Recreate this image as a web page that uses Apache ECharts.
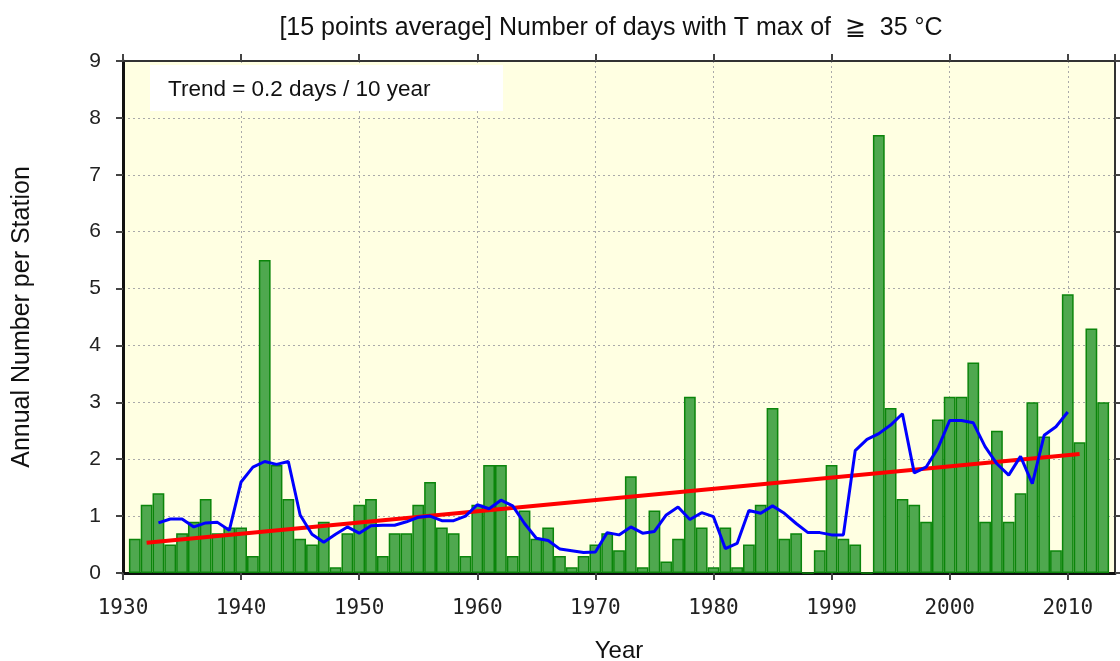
<!DOCTYPE html>
<html>
<head>
<meta charset="utf-8">
<script src="https://cdn.jsdelivr.net/npm/echarts@6/dist/echarts.min.js"></script>
<style>
  html, body { margin: 0; padding: 0; background: #fff; }
  #main { width: 1120px; height: 661px; }
</style>
</head>
<body>
<div id="main"></div>
<script>
// 年ごとの値 (1931-2013)
var barYears = [];
for (var y = 1931; y <= 2013; y++) barYears.push(y);
var barValues = [
    0.6, 1.2, 1.4, 0.5, 0.7, 0.9, 1.3, 0.7, 0.8, 0.8,
    0.3, 5.5, 1.9, 1.3, 0.6, 0.5, 0.9, 0.1, 0.7, 1.2,
    1.3, 0.3, 0.7, 0.7, 1.2, 1.6, 0.8, 0.7, 0.3, 1.2,
    1.9, 1.9, 0.3, 1.1, 0.6, 0.8, 0.3, 0.1, 0.3, 0.5,
    0.7, 0.4, 1.7, 0.1, 1.1, 0.2, 0.6, 3.1, 0.8, 0.1,
    0.8, 0.1, 0.5, 1.2, 2.9, 0.6, 0.7, 0.0, 0.4, 1.9,
    0.6, 0.5, 0.0, 7.7, 2.9, 1.3, 1.2, 0.9, 2.7, 3.1,
    3.1, 3.7, 0.9, 2.5, 0.9, 1.4, 3.0, 2.4, 0.4, 4.9,
    2.3, 4.3, 3.0
];

// 移動平均 (1933-2010)
var avgYears = [];
for (var y2 = 1933; y2 <= 2010; y2++) avgYears.push(y2);
var avgValues = [
    0.88, 0.95, 0.95, 0.81, 0.88, 0.89, 0.75, 1.60, 1.86, 1.96,
    1.91, 1.96, 1.02, 0.68, 0.54, 0.68, 0.81, 0.70, 0.83, 0.84,
    0.84, 0.90, 0.98, 1.00, 0.92, 0.92, 1.00, 1.20, 1.13, 1.28,
    1.18, 0.87, 0.61, 0.57, 0.42, 0.39, 0.36, 0.37, 0.71, 0.67,
    0.81, 0.70, 0.73, 1.02, 1.16, 0.94, 1.06, 0.99, 0.43, 0.52,
    1.10, 1.05, 1.18, 1.05, 0.87, 0.71, 0.71, 0.67, 0.67, 2.15,
    2.35, 2.45, 2.60, 2.80, 1.76, 1.86, 2.19, 2.68, 2.68, 2.64,
    2.22, 1.92, 1.72, 2.05, 1.57, 2.42, 2.57, 2.83
];

// トレンド線の両端
var trendYears = [1932, 2011];
var trendValues = [0.53, 2.09];

var yTicks = [0, 1, 2, 3, 4, 5, 6, 7, 8, 9];

function pairs(xs, vs) {
    var res = [];
    for (var i = 0; i < xs.length; i++) res.push([xs[i], vs[i]]);
    return res;
}

var chart = echarts.init(document.getElementById('main'));

var gridLine = { show: true, lineStyle: { color: '#aaaaaa', type: [2, 3], width: 1 } };
var tickStyle = { show: true, inside: false, length: 7, lineStyle: { color: '#444', width: 2 } };

var option = {
    animation: false,
    backgroundColor: '#ffffff',
    title: {
        text: '[15 points average] Number of days with T max of  \u2267  35 \u00b0C',
        left: 606,
        textAlign: 'center',
        top: 11,
        textStyle: {
            fontFamily: "'Liberation Sans', Arial, sans-serif",
            fontSize: 25,
            fontWeight: 'normal',
            color: '#111'
        }
    },
    grid: {
        left: 123, right: 5, top: 61, bottom: 88,
        outerBoundsMode: 'none',
        show: true,
        backgroundColor: '#ffffe2',
        borderWidth: 0
    },
    graphic: [
        {
            type: 'rect',
            z: 10,
            shape: { x: 150, y: 65, width: 353, height: 46 },
            style: { fill: '#ffffff' }
        },
        {
            type: 'text',
            z: 11,
            x: 168, y: 90,
            style: {
                text: 'Trend = 0.2 days / 10 year',
                fontFamily: "'Liberation Sans', Arial, sans-serif",
                fontSize: 22.5,
                fill: '#111',
                verticalAlign: 'middle'
            }
        }
    ],
    xAxis: [
        {
            type: 'value',
            position: 'bottom',
            min: 1930, max: 2014, interval: 10,
            name: 'Year',
            nameLocation: 'middle',
            nameGap: 66,
            nameTextStyle: { fontFamily: "'Liberation Sans', Arial, sans-serif", fontSize: 24, color: '#111' },
            axisLine: { show: true, onZero: false, lineStyle: { color: '#111', width: 3 } },
            axisTick: tickStyle,
            axisLabel: {
                showMaxLabel: false,
                margin: 25,
                fontFamily: "'DejaVu Sans Mono', monospace",
                fontSize: 21,
                color: '#222',
                formatter: function (v) { return String(v); }
            },
            splitLine: gridLine
        },
        {
            type: 'value',
            position: 'top',
            min: 1930, max: 2014, interval: 10,
            axisLine: { show: true, onZero: false, lineStyle: { color: '#333', width: 2 } },
            axisTick: tickStyle,
            axisLabel: { show: false },
            splitLine: { show: false }
        }
    ],
    yAxis: [
        {
            type: 'value',
            position: 'left',
            min: yTicks[0], max: yTicks[yTicks.length - 1], interval: 1,
            name: 'Annual Number per Station',
            nameLocation: 'middle',
            nameGap: 88,
            nameTextStyle: { fontFamily: "'Liberation Sans', Arial, sans-serif", fontSize: 25, color: '#111' },
            axisLine: { show: true, onZero: false, lineStyle: { color: '#111', width: 3 } },
            axisTick: tickStyle,
            axisLabel: {
                margin: 22,
                fontFamily: "'Liberation Sans', Arial, sans-serif",
                fontSize: 21,
                color: '#222'
            },
            splitLine: gridLine
        },
        {
            type: 'value',
            position: 'right',
            min: yTicks[0], max: yTicks[yTicks.length - 1], interval: 1,
            axisLine: { show: true, onZero: false, lineStyle: { color: '#333', width: 2 } },
            axisTick: tickStyle,
            axisLabel: { show: false },
            splitLine: { show: false }
        }
    ],
    series: [
        {
            name: 'days',
            type: 'bar',
            xAxisIndex: 0,
            yAxisIndex: 0,
            barWidth: 11.8,
            itemStyle: {
                color: '#4fa84f',
                borderColor: '#0b850b',
                borderWidth: 1.5
            },
            data: pairs(barYears, barValues)
        },
        {
            name: 'trend',
            type: 'line',
            xAxisIndex: 0,
            yAxisIndex: 0,
            symbol: 'none',
            lineStyle: { color: '#ff0000', width: 4 },
            data: pairs(trendYears, trendValues),
            z: 3
        },
        {
            name: 'average',
            type: 'line',
            xAxisIndex: 0,
            yAxisIndex: 0,
            symbol: 'none',
            lineStyle: { color: '#0000ff', width: 3 },
            data: pairs(avgYears, avgValues),
            z: 4
        }
    ]
};

chart.setOption(option);
</script>
</body>
</html>
